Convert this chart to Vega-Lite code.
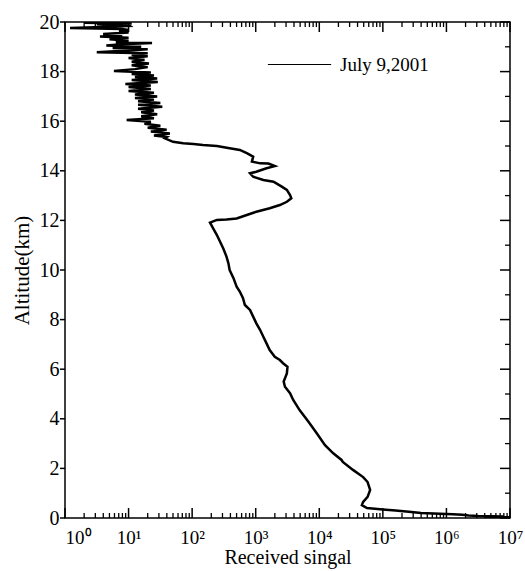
{
  "$schema": "https://vega.github.io/schema/vega-lite/v6.json",
  "width": 445,
  "height": 496,
  "autosize": "none",
  "padding": {"left": 65, "top": 22, "right": 15, "bottom": 53},
  "background": "white",
  "config": {
    "font": "Liberation Serif",
    "view": {"stroke": "black", "strokeWidth": 1.5},
    "axis": {"grid": false, "ticks": false, "domain": false, "labelColor": "black", "titleColor": "black", "labelFont": "Liberation Serif", "titleFont": "Liberation Serif", "titleFontWeight": "normal"}
  },
  "datasets": {
    "profile": [
    {"h": 20.0, "s": 10}, {"h": 19.97, "s": 2.0}, {"h": 19.94, "s": 11.2}, {"h": 19.91, "s": 3.16}, {"h": 19.88, "s": 10},
    {"h": 19.84, "s": 10.5}, {"h": 19.80, "s": 3.98}, {"h": 19.76, "s": 1.2}, {"h": 19.72, "s": 7.94}, {"h": 19.68, "s": 10},
    {"h": 19.64, "s": 7.08}, {"h": 19.58, "s": 10}, {"h": 19.52, "s": 3.98}, {"h": 19.48, "s": 7.94}, {"h": 19.42, "s": 3.55},
    {"h": 19.36, "s": 10}, {"h": 19.30, "s": 5.01}, {"h": 19.24, "s": 10}, {"h": 19.18, "s": 6.31}, {"h": 19.15, "s": 23.4},
    {"h": 19.10, "s": 7.94}, {"h": 19.05, "s": 4.47}, {"h": 19.0, "s": 15.8}, {"h": 18.95, "s": 5.62}, {"h": 18.90, "s": 20.0},
    {"h": 18.85, "s": 10}, {"h": 18.78, "s": 3.16}, {"h": 18.74, "s": 20.0}, {"h": 18.68, "s": 11.2}, {"h": 18.62, "s": 20.0},
    {"h": 18.55, "s": 10}, {"h": 18.48, "s": 17.8}, {"h": 18.40, "s": 11.2}, {"h": 18.33, "s": 20.9}, {"h": 18.26, "s": 11.2},
    {"h": 18.18, "s": 20.0}, {"h": 18.10, "s": 12.6}, {"h": 18.02, "s": 5.89}, {"h": 17.96, "s": 22.4}, {"h": 17.90, "s": 11.2},
    {"h": 17.84, "s": 25.1}, {"h": 17.78, "s": 12.6}, {"h": 17.72, "s": 28.2}, {"h": 17.66, "s": 11.2}, {"h": 17.58, "s": 28.8},
    {"h": 17.50, "s": 8.91}, {"h": 17.44, "s": 22.4}, {"h": 17.38, "s": 10}, {"h": 17.30, "s": 22.4}, {"h": 17.22, "s": 10},
    {"h": 17.15, "s": 25.1}, {"h": 17.08, "s": 12.6}, {"h": 17.00, "s": 28.2}, {"h": 16.94, "s": 12.6}, {"h": 16.87, "s": 25.1},
    {"h": 16.80, "s": 14.1}, {"h": 16.73, "s": 31.6}, {"h": 16.66, "s": 14.1}, {"h": 16.58, "s": 33.9}, {"h": 16.50, "s": 14.1},
    {"h": 16.43, "s": 25.1}, {"h": 16.36, "s": 15.8}, {"h": 16.28, "s": 28.2}, {"h": 16.20, "s": 15.8}, {"h": 16.12, "s": 25.1},
    {"h": 16.05, "s": 9.33}, {"h": 15.98, "s": 22.4}, {"h": 15.90, "s": 17.8}, {"h": 15.82, "s": 31.6}, {"h": 15.74, "s": 20.0},
    {"h": 15.66, "s": 39.8}, {"h": 15.58, "s": 22.4}, {"h": 15.50, "s": 44.7}, {"h": 15.42, "s": 25.1}, {"h": 15.36, "s": 39.8},
    {"h": 15.31, "s": 37.2}, {"h": 15.17, "s": 50.1}, {"h": 15.11, "s": 72.4}, {"h": 15.08, "s": 105}, {"h": 15.04, "s": 148},
    {"h": 15.0, "s": 245}, {"h": 14.91, "s": 389}, {"h": 14.84, "s": 562}, {"h": 14.71, "s": 724}, {"h": 14.57, "s": 912},
    {"h": 14.37, "s": 871}, {"h": 14.30, "s": 1175}, {"h": 14.29, "s": 1585}, {"h": 14.19, "s": 1995}, {"h": 14.10, "s": 1479},
    {"h": 13.96, "s": 1023}, {"h": 13.90, "s": 813}, {"h": 13.76, "s": 912}, {"h": 13.63, "s": 1318}, {"h": 13.56, "s": 1905},
    {"h": 13.36, "s": 2570}, {"h": 13.23, "s": 3090}, {"h": 13.02, "s": 3467}, {"h": 12.89, "s": 3631}, {"h": 12.75, "s": 3090},
    {"h": 12.62, "s": 2399}, {"h": 12.49, "s": 1660}, {"h": 12.35, "s": 1023}, {"h": 12.22, "s": 724}, {"h": 12.08, "s": 501},
    {"h": 12.04, "s": 347}, {"h": 12.02, "s": 245}, {"h": 11.91, "s": 191}, {"h": 11.68, "s": 214}, {"h": 11.41, "s": 245},
    {"h": 11.14, "s": 275}, {"h": 10.87, "s": 309}, {"h": 10.54, "s": 347}, {"h": 10.27, "s": 372}, {"h": 10.0, "s": 389},
    {"h": 9.67, "s": 447}, {"h": 9.33, "s": 501}, {"h": 9.13, "s": 562}, {"h": 8.86, "s": 631}, {"h": 8.59, "s": 676},
    {"h": 8.39, "s": 813}, {"h": 8.12, "s": 912}, {"h": 7.85, "s": 1023}, {"h": 7.58, "s": 1175}, {"h": 7.31, "s": 1318},
    {"h": 7.04, "s": 1479}, {"h": 6.77, "s": 1660}, {"h": 6.50, "s": 1995}, {"h": 6.37, "s": 2399}, {"h": 6.24, "s": 2692},
    {"h": 6.10, "s": 3162}, {"h": 5.83, "s": 3090}, {"h": 5.50, "s": 2754}, {"h": 5.29, "s": 2884}, {"h": 5.03, "s": 3467},
    {"h": 4.76, "s": 3890}, {"h": 4.35, "s": 4898}, {"h": 3.88, "s": 6761}, {"h": 3.42, "s": 9120}, {"h": 2.94, "s": 12303},
    {"h": 2.61, "s": 16596}, {"h": 2.34, "s": 22387}, {"h": 2.26, "s": 23442}, {"h": 1.94, "s": 33884}, {"h": 1.65, "s": 48978},
    {"h": 1.45, "s": 57544}, {"h": 1.13, "s": 63096}, {"h": 0.85, "s": 57544}, {"h": 0.65, "s": 48978}, {"h": 0.52, "s": 46774},
    {"h": 0.40, "s": 56234}, {"h": 0.34, "s": 100000}, {"h": 0.30, "s": 158489}, {"h": 0.24, "s": 281838}, {"h": 0.20, "s": 398107},
    {"h": 0.17, "s": 794328}, {"h": 0.15, "s": 1258925}, {"h": 0.13, "s": 1778279}, {"h": 0.10, "s": 2238721}, {"h": 0.08, "s": 3162278},
    {"h": 0.06, "s": 7943282}, {"h": 0.045, "s": 3981072}, {"h": 0.03, "s": 10000000}, {"h": 0.015, "s": 5011872}, {"h": 0.0, "s": 10000000}
    ],
    "xmajor": [{"v": 1}, {"v": 10}, {"v": 100}, {"v": 1000}, {"v": 10000}, {"v": 100000}, {"v": 1000000}, {"v": 10000000}],
    "xminor": [{"v": 2}, {"v": 3}, {"v": 4}, {"v": 5}, {"v": 6}, {"v": 7}, {"v": 8}, {"v": 9},
      {"v": 20}, {"v": 30}, {"v": 40}, {"v": 50}, {"v": 60}, {"v": 70}, {"v": 80}, {"v": 90},
      {"v": 200}, {"v": 300}, {"v": 400}, {"v": 500}, {"v": 600}, {"v": 700}, {"v": 800}, {"v": 900},
      {"v": 2000}, {"v": 3000}, {"v": 4000}, {"v": 5000}, {"v": 6000}, {"v": 7000}, {"v": 8000}, {"v": 9000},
      {"v": 20000}, {"v": 30000}, {"v": 40000}, {"v": 50000}, {"v": 60000}, {"v": 70000}, {"v": 80000}, {"v": 90000},
      {"v": 200000}, {"v": 300000}, {"v": 400000}, {"v": 500000}, {"v": 600000}, {"v": 700000}, {"v": 800000}, {"v": 900000},
      {"v": 2000000}, {"v": 3000000}, {"v": 4000000}, {"v": 5000000}, {"v": 6000000}, {"v": 7000000}, {"v": 8000000}, {"v": 9000000}],
    "ymajor": [{"v": 0}, {"v": 2}, {"v": 4}, {"v": 6}, {"v": 8}, {"v": 10}, {"v": 12}, {"v": 14}, {"v": 16}, {"v": 18}, {"v": 20}],
    "yminor": [{"v": 1}, {"v": 3}, {"v": 5}, {"v": 7}, {"v": 9}, {"v": 11}, {"v": 13}, {"v": 15}, {"v": 17}, {"v": 19}]
  },
  "layer": [
    {
      "data": {"name": "profile"},
      "mark": {"type": "line", "strokeWidth": 2.5, "clip": true},
      "encoding": {
        "x": {"field": "s", "type": "quantitative",
          "scale": {"type": "log", "domain": [1, 10000000], "nice": false},
          "axis": {"orient": "bottom",
            "values": [1,10,100,1000,10000,100000,1000000,10000000],
            "labelExpr": "'10' + ['⁰','¹','²','³','⁴','⁵','⁶','⁷'][round(log(datum.value)/LN10)]",
            "labelOverlap": false, "labelFlush": false, "labelBound": false,
            "labelFontSize": 19,
            "labelAlign": {"condition": {"test": "datum.value < 2", "value": "left"}, "value": "center"},
            "labelPadding": 10,
            "title": "Received singal", "titleFontSize": 20, "titlePadding": 0}
        },
        "y": {"field": "h", "type": "quantitative",
          "scale": {"domain": [0, 20], "nice": false},
          "axis": {"orient": "left", "values": [0,2,4,6,8,10,12,14,16,18,20], "labelPadding": 6,
            "labelFontSize": 20, "title": "Altitude(km)", "titleFontSize": 21, "titlePadding": 7}
        },
        "order": {"field": "h", "sort": "descending"},
        "color": {"datum": "July 9,2001", "scale": {"range": ["black"]},
          "legend": {"orient": "none", "legendX": 202, "legendY": 10, "title": null, "symbolType": "stroke",
            "symbolSize": 4000, "symbolStrokeWidth": 1.2, "symbolStrokeColor": "black", "labelFont": "Liberation Serif", "labelFontSize": 19,
            "labelColor": "black", "labelOffset": 8}}
      }
    },
    {
      "data": {"name": "xmajor"},
      "mark": {"type": "tick", "orient": "vertical", "size": 10, "thickness": 1.5, "color": "black", "opacity": 1, "yOffset": -5},
      "encoding": {"x": {"field": "v", "type": "quantitative"}, "y": {"datum": 0, "type": "quantitative"}}
    },
    {
      "data": {"name": "xmajor"},
      "mark": {"type": "tick", "orient": "vertical", "size": 10, "thickness": 1.5, "color": "black", "opacity": 1, "yOffset": 5},
      "encoding": {"x": {"field": "v", "type": "quantitative"}, "y": {"datum": 20, "type": "quantitative"}}
    },
    {
      "data": {"name": "xminor"},
      "mark": {"type": "tick", "orient": "vertical", "size": 5, "thickness": 1.3, "color": "black", "opacity": 1, "yOffset": -2.5},
      "encoding": {"x": {"field": "v", "type": "quantitative"}, "y": {"datum": 0, "type": "quantitative"}}
    },
    {
      "data": {"name": "xminor"},
      "mark": {"type": "tick", "orient": "vertical", "size": 5, "thickness": 1.3, "color": "black", "opacity": 1, "yOffset": 2.5},
      "encoding": {"x": {"field": "v", "type": "quantitative"}, "y": {"datum": 20, "type": "quantitative"}}
    },
    {
      "data": {"name": "ymajor"},
      "mark": {"type": "tick", "orient": "horizontal", "size": 10, "thickness": 1.5, "color": "black", "opacity": 1, "xOffset": -5},
      "encoding": {"y": {"field": "v", "type": "quantitative"}, "x": {"datum": 10000000, "type": "quantitative"}}
    },
    {
      "data": {"name": "yminor"},
      "mark": {"type": "tick", "orient": "horizontal", "size": 5, "thickness": 1.3, "color": "black", "opacity": 1, "xOffset": -2.5},
      "encoding": {"y": {"field": "v", "type": "quantitative"}, "x": {"datum": 10000000, "type": "quantitative"}}
    },
    {
      "data": {"name": "ymajor"},
      "mark": {"type": "tick", "orient": "horizontal", "size": 5, "thickness": 1.5, "color": "black", "opacity": 1, "xOffset": -2.5},
      "encoding": {"y": {"field": "v", "type": "quantitative"}, "x": {"datum": 1, "type": "quantitative"}}
    }
  ]
}
